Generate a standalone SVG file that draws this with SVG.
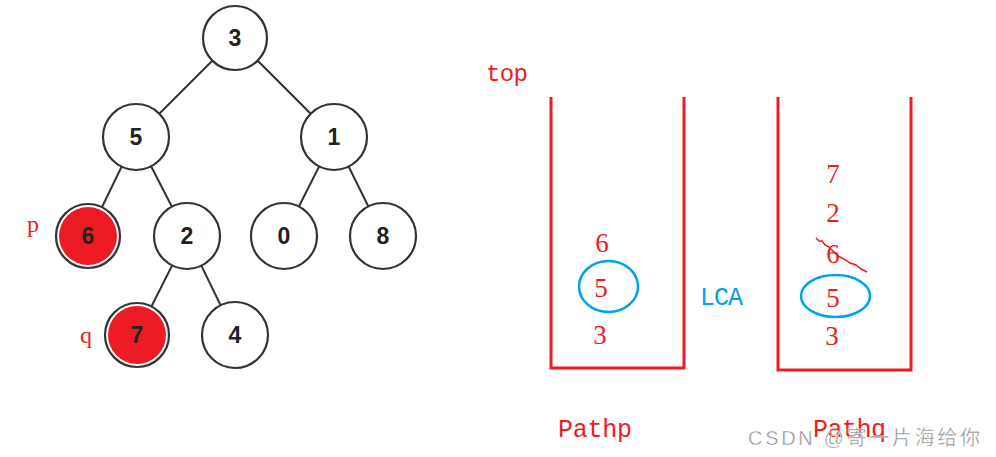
<svg xmlns="http://www.w3.org/2000/svg" width="996" height="457" viewBox="0 0 996 457">
<style>
.edge{stroke:#333;stroke-width:2;fill:none}
.node circle{fill:#fff;stroke:#333;stroke-width:2.2}
.node circle.hl{fill:#ed1c24;stroke:none}
.nt{font-family:"Liberation Sans",Arial,sans-serif;font-weight:bold;font-size:23px;fill:#222;text-anchor:middle}
.rt{font-family:"Liberation Serif","Times New Roman",serif;fill:#ed1c24}
.mt{font-family:"Liberation Mono","Courier New",monospace;fill:#ed1c24}
.num{font-size:27px;text-anchor:middle}
.stack{fill:none;stroke:#ed1c24;stroke-width:3}
.lca{fill:none;stroke:#00a2e8;stroke-width:2.5}
</style>
<rect width="996" height="457" fill="#fff"/>
<g id="connectors">
<line class="edge" x1="235" y1="38" x2="136" y2="137"/>
<line class="edge" x1="235" y1="38" x2="334" y2="137"/>
<line class="edge" x1="136" y1="137" x2="88" y2="236"/>
<line class="edge" x1="136" y1="137" x2="187" y2="236"/>
<line class="edge" x1="334" y1="137" x2="284" y2="236"/>
<line class="edge" x1="334" y1="137" x2="383" y2="236"/>
<line class="edge" x1="187" y1="236" x2="137" y2="335"/>
<line class="edge" x1="187" y1="236" x2="235" y2="335"/>
</g>
<g id="n3" class="node"><circle cx="235" cy="38" r="32"/><text class="nt" x="235" y="46">3</text></g>
<g id="n5" class="node"><circle cx="136" cy="137" r="33"/><text class="nt" x="136" y="145">5</text></g>
<g id="n1" class="node"><circle cx="334" cy="137" r="33"/><text class="nt" x="334" y="145">1</text></g>
<g id="n6" class="node"><circle cx="88" cy="236" r="32"/><circle class="hl" cx="88" cy="236" r="29"/><text class="nt" x="88" y="244">6</text></g>
<g id="n2" class="node"><circle cx="187" cy="236" r="33"/><text class="nt" x="187" y="244">2</text></g>
<g id="n0" class="node"><circle cx="284" cy="236" r="33"/><text class="nt" x="284" y="244">0</text></g>
<g id="n8" class="node"><circle cx="383" cy="236" r="33"/><text class="nt" x="383" y="244">8</text></g>
<g id="n7" class="node"><circle cx="137" cy="335" r="32"/><circle class="hl" cx="137" cy="335" r="29"/><text class="nt" x="137" y="343">7</text></g>
<g id="n4" class="node"><circle cx="235" cy="335" r="33"/><text class="nt" x="235" y="343">4</text></g>
<text class="rt" x="27" y="232" font-size="24">p</text>
<text class="rt" x="80" y="343" font-size="24">q</text>
<text class="mt" x="486" y="81" font-size="24" textLength="42">top</text>
<g id="pathp">
<polyline class="stack" points="551,97 551,368 684,368 684,97"/>
<text class="rt num" x="602" y="252">6</text>
<text class="rt num" x="601" y="297">5</text>
<text class="rt num" x="600" y="344">3</text>
<ellipse class="lca" cx="608.5" cy="286.5" rx="29.5" ry="25.5"/>
</g>
<text x="700" y="305" font-family="Liberation Mono,monospace" font-size="25" fill="#00a2e8" textLength="43">LCA</text>
<g id="pathq">
<polyline class="stack" points="778,97 778,370 911,370 911,97"/>
<text class="rt num" x="833" y="183">7</text>
<text class="rt num" x="833" y="222">2</text>
<text class="rt num" x="833" y="263">6</text>
<text class="rt num" x="833" y="307">5</text>
<text class="rt num" x="832" y="345">3</text>
<ellipse class="lca" cx="835.5" cy="296" rx="34.5" ry="21"/>
<path d="M816,238 L819,241 L822,241 L825,245 L829,247 L833,251 L838,256 L844,259 L850,263 L856,265 L861,269 L867,272" fill="none" stroke="#ed1c24" stroke-width="1.5"/>
</g>
<text class="mt" x="558" y="437" font-size="25" textLength="74">Pathp</text>
<text class="mt" x="813" y="437" font-size="25" textLength="73">Pathq</text>
<text x="748" y="445" font-family="Liberation Sans,'Noto Sans CJK SC',sans-serif" font-size="20" fill="#8f8f8f" stroke="#fff" stroke-width="0.4" textLength="232">CSDN @寄一片海给你</text>
</svg>
